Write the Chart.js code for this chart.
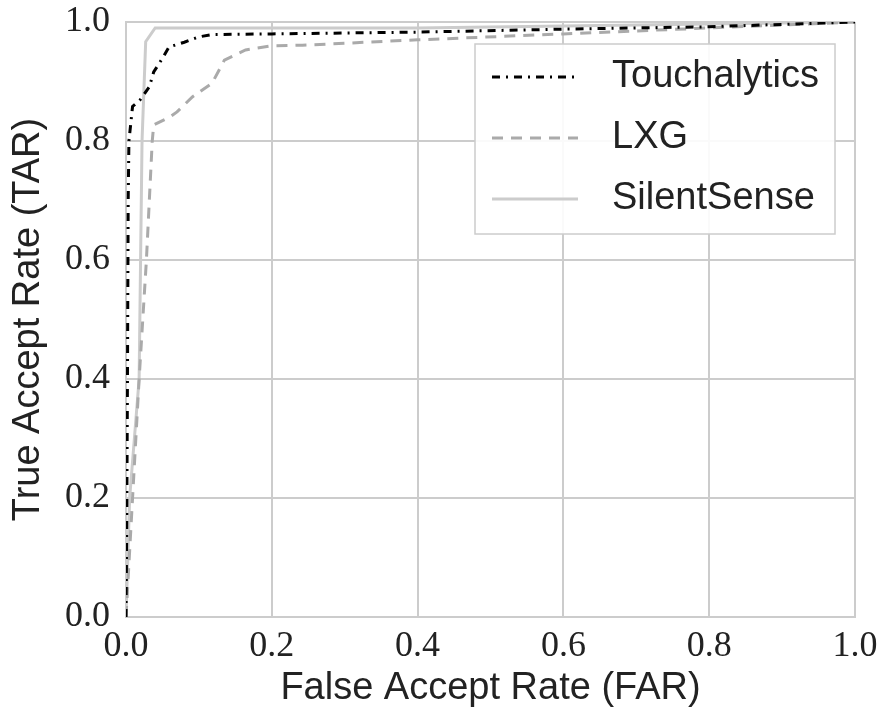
<!DOCTYPE html>
<html>
<head>
<meta charset="utf-8">
<script src="https://cdn.jsdelivr.net/npm/chart.js@4/dist/chart.umd.min.js"></script>
<style>
  body { margin: 0; background: #fff; }
  #wrap { width: 881px; height: 715px; }
</style>
</head>
<body>
<div id="wrap"><canvas id="roc"></canvas></div>
<script>
// ROC curves, values
let touchFar = [0, 0.001, 0.002, 0.003, 0.004, 0.009, 0.02, 0.032, 0.038, 0.05, 0.059, 0.08, 0.1, 0.118, 0.2, 0.4, 0.6, 0.8, 1.0];
let touchTar = [0, 0.15, 0.4, 0.7, 0.8, 0.858, 0.87, 0.891, 0.916, 0.939, 0.958, 0.966, 0.975, 0.979, 0.98, 0.983, 0.988, 0.992, 1.0];

let lxgFar = [0, 0.009, 0.018, 0.028, 0.036, 0.038, 0.061, 0.07, 0.091, 0.118, 0.135, 0.164, 0.2, 0.242, 0.4, 0.6, 0.8, 1.0];
let lxgTar = [0, 0.2, 0.4, 0.6, 0.8, 0.827, 0.841, 0.849, 0.874, 0.897, 0.936, 0.953, 0.96, 0.961, 0.97, 0.98, 0.99, 1.0];

let ssFar = [0, 0.005, 0.018, 0.02, 0.022, 0.027, 0.04, 0.4, 1.0];
let ssTar = [0, 0.2, 0.4, 0.6, 0.8, 0.967, 0.99, 0.99, 1.0];

let ticks = [0, 0.2, 0.4, 0.6, 0.8, 1.0];

function pts(xs, ys) {
  return xs.map((x, i) => ({x: x, y: ys[i]}));
}

let gridColor = '#cccccc';
let tickFont = {family: "'Liberation Serif', serif", size: 36};
let titleFont = {family: "'Liberation Sans', sans-serif", size: 38};

// legend box drawn inside the plot area, top right
let boxLegend = {
  id: 'boxLegend',
  afterDraw(chart) {
    let c = chart.ctx;
    let x0 = 475, y0 = 44, w = 360, h = 190;
    c.save();
    c.fillStyle = 'rgba(255,255,255,0.9)';
    c.fillRect(x0, y0, w, h);
    c.strokeStyle = gridColor;
    c.lineWidth = 1.5;
    c.strokeRect(x0, y0, w, h);
    chart.data.datasets.forEach((ds, i) => {
      let y = y0 + 33 + i * 61;
      c.beginPath();
      c.setLineDash(ds.borderDash || []);
      c.strokeStyle = ds.borderColor;
      c.lineWidth = ds.borderWidth;
      c.moveTo(492, y);
      c.lineTo(578, y);
      c.stroke();
      c.setLineDash([]);
      c.fillStyle = '#222';
      c.font = "38px 'Liberation Sans', sans-serif";
      c.textBaseline = 'middle';
      c.fillText(ds.label, 612, y);
    });
    c.restore();
  }
};

new Chart(document.getElementById('roc'), {
  type: 'line',
  data: {
    datasets: [
      {label: 'Touchalytics', data: pts(touchFar, touchTar), borderColor: '#000000', borderWidth: 3, borderDash: [8, 6, 2, 6]},
      {label: 'LXG', data: pts(lxgFar, lxgTar), borderColor: '#aaaaaa', borderWidth: 3, borderDash: [11, 8]},
      {label: 'SilentSense', data: pts(ssFar, ssTar), borderColor: '#cccccc', borderWidth: 3}
    ]
  },
  options: {
    responsive: true,
    maintainAspectRatio: false,
    animation: false,
    layout: {padding: {top: 22, right: 26, left: 0, bottom: 0}},
    elements: {point: {radius: 0}, line: {tension: 0}},
    plugins: {legend: {display: false}, tooltip: {enabled: false}},
    scales: {
      x: {
        type: 'linear', min: 0, max: 1,
        afterBuildTicks: s => { s.ticks = ticks.map(v => ({value: v})); },
        afterFit: s => { s.height = 98; s.paddingLeft = 0; s.paddingRight = 0; },
        grid: {color: gridColor, lineWidth: 2, drawTicks: false},
        border: {color: gridColor, width: 2},
        ticks: {font: tickFont, color: '#222', padding: 8, maxRotation: 0, callback: v => v.toFixed(1)},
        title: {display: true, text: 'False Accept Rate (FAR)', font: titleFont, color: '#222', padding: {top: 2}}
      },
      y: {
        type: 'linear', min: 0, max: 1,
        afterBuildTicks: s => { s.ticks = ticks.map(v => ({value: v})); },
        afterFit: s => { s.width = 126; s.paddingTop = 0; s.paddingBottom = 0; },
        grid: {color: gridColor, lineWidth: 2, drawTicks: false},
        border: {color: gridColor, width: 2},
        ticks: {font: tickFont, color: '#222', padding: 16, callback: v => v.toFixed(1)},
        title: {display: true, text: 'True Accept Rate (TAR)', font: titleFont, color: '#222', padding: {top: 6, bottom: 2}}
      }
    }
  },
  plugins: [boxLegend]
});
</script>
</body>
</html>
